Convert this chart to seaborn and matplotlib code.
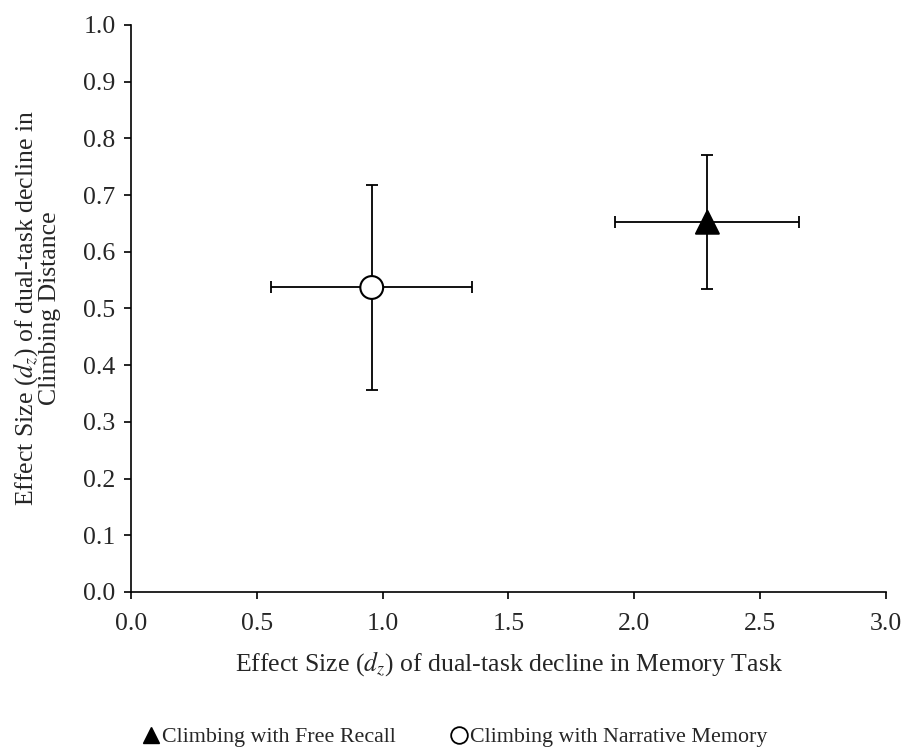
import seaborn as sns
import matplotlib.pyplot as plt
import pandas as pd

conditions = ['Climbing with Free Recall', 'Climbing with Narrative Memory']
memory_d = [2.29, 0.957]
memory_lo = [1.923, 0.557]
memory_hi = [2.655, 1.357]
climb_d = [0.652, 0.537]
climb_lo = [0.535, 0.357]
climb_hi = [0.770, 0.718]

df = pd.DataFrame({'condition': conditions, 'memory': memory_d, 'climb': climb_d,
                   'mem_lo': memory_lo, 'mem_hi': memory_hi,
                   'climb_lo': climb_lo, 'climb_hi': climb_hi})

sns.set_style('ticks')
plt.rcParams['font.family'] = ['Liberation Serif', 'DejaVu Serif']
plt.rcParams['mathtext.fontset'] = 'stix'

fig = plt.figure(figsize=(9.08, 7.52), dpi=100)
ax = fig.add_axes([0.144, 0.2128, 0.832, 0.754])

# error bars first so markers sit on top
for _, r in df.iterrows():
    ax.errorbar(r['memory'], r['climb'],
                xerr=[[r['memory'] - r['mem_lo']], [r['mem_hi'] - r['memory']]],
                yerr=[[r['climb'] - r['climb_lo']], [r['climb_hi'] - r['climb']]],
                fmt='none', ecolor='black', elinewidth=1.3, capsize=4.5,
                capthick=1.3, zorder=2)

sns.scatterplot(data=df, x='memory', y='climb', style='condition',
                markers={conditions[0]: '^', conditions[1]: 'o'},
                hue='condition', palette={conditions[0]: 'black', conditions[1]: 'white'},
                edgecolor='black', linewidth=1.5, s=270, ax=ax, zorder=3, legend=False)

ax.set_xlim(0, 3.0)
ax.set_ylim(0, 1.0)
ax.set_xticks([0, 0.5, 1.0, 1.5, 2.0, 2.5, 3.0])
ax.set_yticks([i / 10 for i in range(11)])
ax.xaxis.set_major_formatter(plt.FormatStrFormatter('%.1f'))
ax.yaxis.set_major_formatter(plt.FormatStrFormatter('%.1f'))
ax.tick_params(labelsize=18.5, length=5, width=1.2, color='black', direction='out')
ax.tick_params(axis='x', pad=10)
ax.tick_params(axis='y', pad=6)
for side in ['top', 'right']:
    ax.spines[side].set_visible(False)
for side in ['left', 'bottom']:
    ax.spines[side].set_linewidth(1.2)
    ax.spines[side].set_color('black')

ax.set_xlabel('Effect Size ($d_z$) of dual-task decline in Memory Task',
              fontsize=18.5, labelpad=10)
ax.set_ylabel('Effect Size ($d_z$) of dual-task decline in\nClimbing Distance',
              fontsize=18.5, labelpad=16, linespacing=0.95)

# legend below the plot
h1 = plt.Line2D([], [], marker='^', color='black', markerfacecolor='black',
                linestyle='none', markersize=12)
h2 = plt.Line2D([], [], marker='o', color='black', markerfacecolor='white',
                linestyle='none', markersize=12, markeredgewidth=1.3)
fig.legend([h1, h2], conditions, loc='lower center', bbox_to_anchor=(0.5, -0.02),
           ncol=2, frameon=False, fontsize=15.8, handletextpad=0.0,
           columnspacing=2.4, handlelength=1.0)

fig.savefig('out.png', dpi=100)
